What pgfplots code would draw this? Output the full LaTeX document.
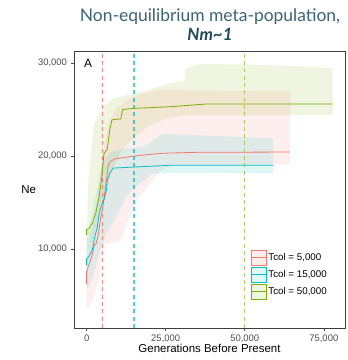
\documentclass[border=0pt]{standalone}
\usepackage{pgfplots}
\pgfplotsset{compat=1.18}
\usepackage{fontspec}
\setmainfont{Liberation Sans}
\newfontfamily\titlefont{Lato}

\definecolor{cred}{HTML}{F8766D}
\definecolor{ccyan}{HTML}{00BFC4}
\definecolor{cgreen}{HTML}{7CAE00}
\definecolor{titlecol}{HTML}{3A6474}
\definecolor{titledark}{HTML}{1D4A5C}
\definecolor{ticklab}{HTML}{4D4D4D}

\begin{document}
\begin{tikzpicture}
\useasboundingbox (0,0) rectangle (348bp,360bp);
\begin{axis}[
  at={(74bp,32bp)}, anchor=south west,
  scale only axis, width=271bp, height=277bp,
  xmin=-4000, xmax=81700, ymin=1500, ymax=31300,
  xtick={0,25000,50000,75000},
  ytick={10000,20000,30000},
  scaled ticks=false,
  /pgf/number format/1000 sep={,},
  /pgf/number format/assume math mode=true,
  tick label style={font=\fontsize{9.5}{11}\selectfont, text=ticklab},
  tick align=outside, major tick length=3.5bp,
  xtick pos=bottom, ytick pos=left,
  tick style={draw=ticklab, line width=0.6bp},
  axis line style={draw=ticklab!80!black, line width=0.7bp},
  xlabel={Generations Before Present},
  xlabel style={font=\fontsize{11.5}{13}\selectfont, at={(axis description cs:0.5,0)}, anchor=base, yshift=-24bp},
  ylabel={Ne},
  ylabel style={font=\fontsize{11.5}{13}\selectfont, rotate=-90, at={(axis description cs:-0.167,0.5)}, anchor=center},
  legend style={draw=none, fill=none, at={(rel axis cs:0.64,0.29)}, anchor=north west,
    font=\fontsize{9.8}{11}\selectfont, row sep=1.2bp, cells={anchor=west},
    legend cell align=left},
  clip=true,
]
% confidence ribbons
\addplot[draw=none, fill=cgreen, fill opacity=0.12, forget plot] coordinates {
  (0,10500) (500,17100) (1600,20700) (2100,23200) (3500,24300) (5300,25300)
  (8400,26200) (12000,26500) (18000,26900) (23000,27500) (28500,28000)
  (31000,28100) (31100,29400) (35800,29900) (50000,29850) (65000,29700) (77800,29450)
  (77800,24400) (30000,24400) (25000,24000) (20000,23300) (15000,22000)
  (11000,20500) (8000,18500) (6000,16000) (4000,13500) (2000,11000) (0,9500)};
\addplot[draw=none, fill=cred, fill opacity=0.12, forget plot] coordinates {
  (0,9000) (2000,12500) (4000,17000) (5500,21000) (7000,23500) (9000,25000)
  (12000,25800) (16000,26600) (22000,27100) (64300,27000)
  (64300,19100) (27000,19000) (23000,18300) (20000,17000) (15800,15300)
  (10500,10800) (5300,10500) (4000,7000) (2000,4500) (0,3500)};
\addplot[draw=none, fill=ccyan, fill opacity=0.12, forget plot] coordinates {
  (0,11000) (1500,13500) (3000,16000) (4500,18500) (6000,19800) (8000,20500)
  (12000,20800) (17900,21000) (24200,22400) (30000,22300) (59000,21900)
  (59000,18100) (30000,18200) (21000,18100) (16900,17100) (12600,15700)
  (10500,14200) (8500,13000) (6000,11500) (4000,9500) (2000,7000) (0,5500)};
% colonisation times
\addplot[cred, opacity=0.85, line width=0.9bp, dash pattern=on 4bp off 3.3bp, forget plot]
  coordinates {(5000,1500) (5000,31300)};
\addplot[ccyan, opacity=0.7, line width=1.4bp, dash pattern=on 4bp off 3.3bp, forget plot]
  coordinates {(15000,1500) (15000,31300)};
\addplot[cgreen, opacity=0.6, line width=1.4bp, dash pattern=on 4bp off 3.3bp, forget plot]
  coordinates {(50000,1500) (50000,31300)};
% median Ne trajectories
\addplot[cgreen, line width=0.8bp, forget plot] coordinates {
  (0,11500) (0,12100) (700,12200) (1800,12800) (2900,13900) (3900,15500)
  (4700,17500) (5500,20300) (6500,20700) (7300,22800) (8000,23900)
  (10800,24000) (11400,25000) (14700,25120) (26000,25300) (38000,25600) (77800,25600)};
\addplot[cred, line width=0.8bp, forget plot] coordinates {
  (0,6200) (0,7600) (700,8300) (1800,9400) (2300,10300) (3000,10600)
  (3600,11400) (4400,13300) (5000,14200) (6000,16700) (6800,18900)
  (7400,19400) (9000,19700) (15000,20000) (24000,20300) (35000,20400) (64300,20430)};
\addplot[ccyan, line width=0.8bp, forget plot] coordinates {
  (0,8200) (0,8900) (700,9200) (1800,9900) (2500,11200) (3400,12400)
  (3900,13700) (4500,14500) (5500,15300) (6300,16400) (6500,17400)
  (7000,17800) (7400,18200) (8400,18700) (14000,18800) (26000,19000) (59000,19000)};
% legend keys
\addlegendimage{legend image code/.code={
  \draw[draw=cred, fill=cred!12, line width=0.8bp] (0bp,-7.5bp) rectangle (15bp,7.5bp);
  \draw[cred, line width=0.8bp] (0bp,0bp) -- (15bp,0bp);}}
\addlegendentry{Tcol = 5,000}
\addlegendimage{legend image code/.code={
  \draw[draw=ccyan, fill=ccyan!12, line width=0.8bp] (0bp,-7.5bp) rectangle (15bp,7.5bp);
  \draw[ccyan, line width=0.8bp] (0bp,0bp) -- (15bp,0bp);}}
\addlegendentry{Tcol = 15,000}
\addlegendimage{legend image code/.code={
  \draw[draw=cgreen, fill=cgreen!12, line width=0.8bp] (0bp,-7.5bp) rectangle (15bp,7.5bp);
  \draw[cgreen, line width=0.8bp] (0bp,0bp) -- (15bp,0bp);}}
\addlegendentry{Tcol = 50,000}
% panel tag and title
\node[anchor=base west, font=\fontsize{12}{14}\selectfont] at (axis description cs:0,1) [xshift=6.5bp, yshift=-16.3bp] {A};
\end{axis}
\node[anchor=base, font=\titlefont\fontsize{17.5}{20}\selectfont, text=titlecol] at (210bp,338bp) {Non-equilibrium meta-population,};
\node[anchor=base, font=\titlefont\bfseries\itshape\fontsize{17}{20}\selectfont, text=titledark] at (210bp,319.5bp) {Nm\char`\~1};
\end{tikzpicture}
\end{document}
